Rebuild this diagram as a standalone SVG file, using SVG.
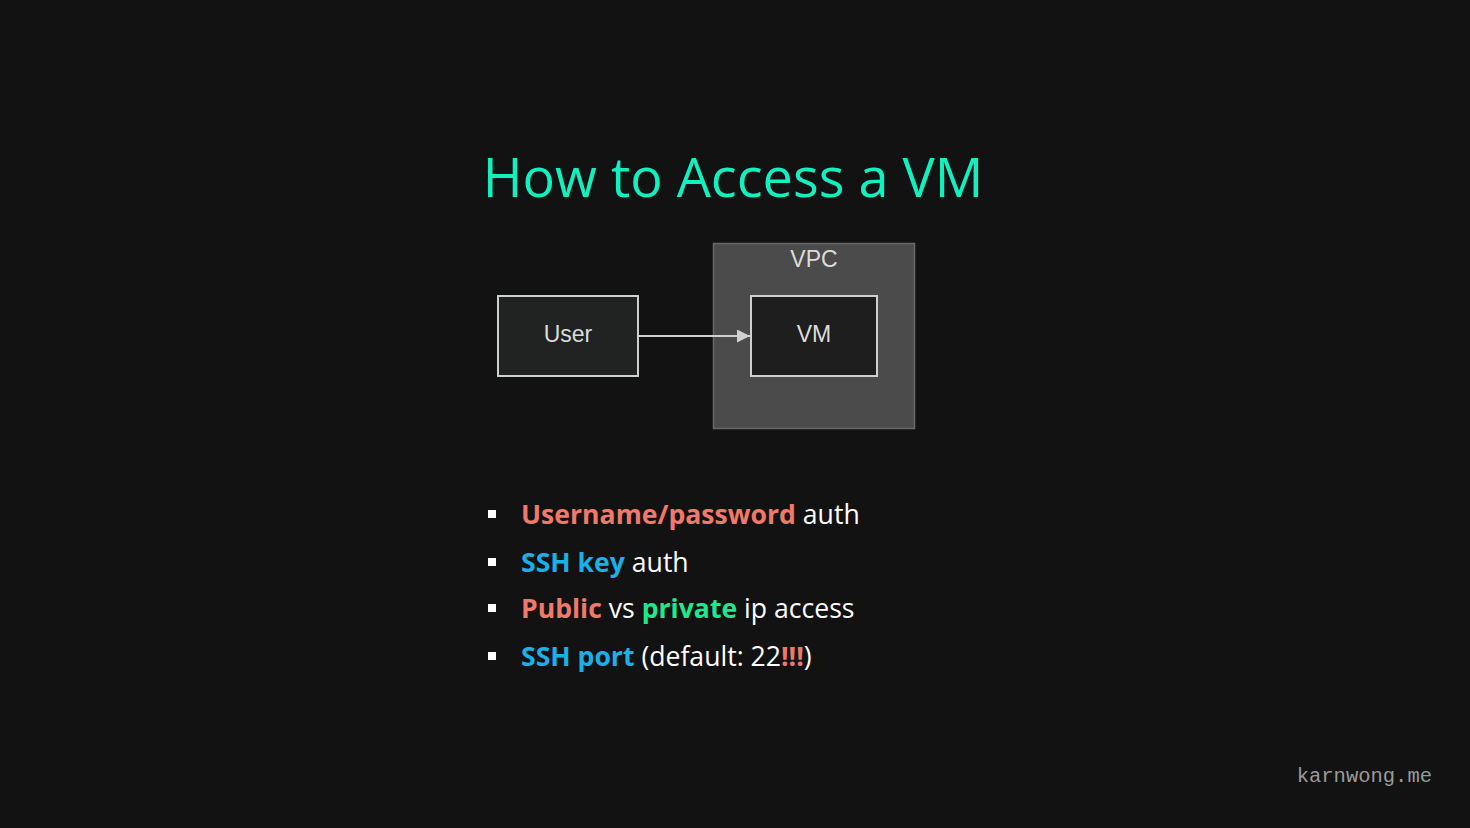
<svg xmlns="http://www.w3.org/2000/svg" width="1470" height="828" viewBox="0 0 1470 828">
<defs>
<style>
.lbl{font-family:"Liberation Sans",Arial,sans-serif;font-size:23px;fill:#dcdcdc;text-anchor:middle}
.bl{font-family:"Open Sans","Noto Sans",sans-serif;font-size:26.6px;fill:#ffffff}
.b{font-weight:bold}
.red{fill:#f07a6a}
.blue{fill:#1ab0e8}
.green{fill:#1de88f}
</style>
<marker id="arr" viewBox="0 0 10 10" refX="10" refY="5" markerWidth="13" markerHeight="13" markerUnits="userSpaceOnUse" orient="auto">
<path d="M0,0 L10,5 L0,10 z" fill="#d0d0d0"/>
</marker>
</defs>
<rect width="1470" height="828" fill="#121212"/>
<text x="733" y="197" font-family="Open Sans,'Noto Sans',sans-serif" font-size="54" fill="#12f0c0" text-anchor="middle">How to Access a VM</text>
<g id="vpc">
<rect x="713.5" y="243.5" width="201" height="185" fill="#4a4b4a" stroke="#6a6a6a" stroke-width="1.5"/>
<text class="lbl" x="814" y="267">VPC</text>
</g>
<g id="user">
<rect x="498" y="296" width="140" height="80" fill="#202322" stroke="#cfcfcf" stroke-width="2"/>
<text class="lbl" x="568" y="342">User</text>
</g>
<g id="vm">
<rect x="751" y="296" width="126" height="80" fill="#1e1e1e" stroke="#cfcfcf" stroke-width="2"/>
<text class="lbl" x="814" y="342">VM</text>
</g>
<g id="connectors">
<line x1="639" y1="336" x2="750" y2="336" stroke="#d0d0d0" stroke-width="2" marker-end="url(#arr)"/>
</g>
<g id="bullets">
<rect x="488" y="510" width="8" height="8" fill="#ffffff"/>
<rect x="488" y="558" width="8" height="8" fill="#ffffff"/>
<rect x="488" y="604" width="8" height="8" fill="#ffffff"/>
<rect x="488" y="652" width="8" height="8" fill="#ffffff"/>
<text class="bl" x="521" y="524"><tspan class="b red">Username/password</tspan> auth</text>
<text class="bl" x="521" y="572"><tspan class="b blue">SSH key</tspan> auth</text>
<text class="bl" x="521" y="618"><tspan class="b red">Public</tspan> vs <tspan class="b green">private</tspan> ip access</text>
<text class="bl" x="521" y="666"><tspan class="b blue">SSH port</tspan> (default: 22<tspan class="b red">!!!</tspan>)</text>
</g>
<text x="1432" y="782" font-family="'Liberation Mono','DejaVu Sans Mono',monospace" font-size="20.5" fill="#9a9a9a" text-anchor="end">karnwong.me</text>
</svg>
